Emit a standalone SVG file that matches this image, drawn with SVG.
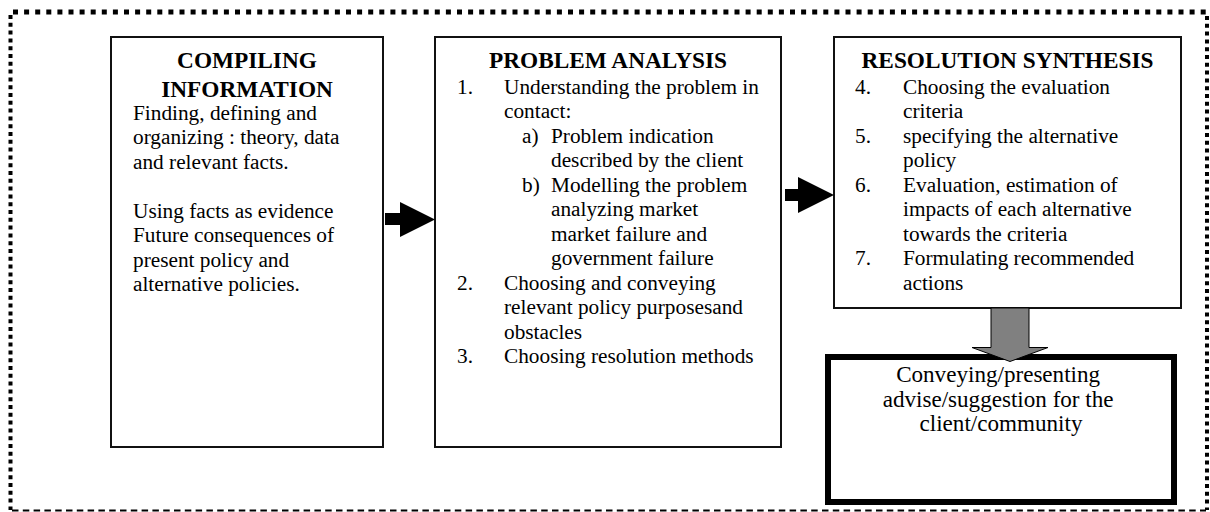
<svg xmlns="http://www.w3.org/2000/svg" width="1210" height="512" viewBox="0 0 1210 512">
<style>
.box{fill:#fff;stroke:#111;stroke-width:2}
.thick{fill:#fff;stroke:#000;stroke-width:6}
.t{font-family:"Liberation Serif","Times New Roman",serif;fill:#000}
.title{font-size:23.3px;font-weight:bold;text-anchor:middle}
.body{font-size:21.3px}
.big{font-size:23.1px;text-anchor:middle}
</style>
<rect width="1210" height="512" fill="#fff"/>
<g id="frame" fill="none" stroke="#000">
<line x1="13" y1="12" x2="1209" y2="12" stroke-width="5" stroke-dasharray="5 6.1"/>
<line x1="10.5" y1="15" x2="10.5" y2="510" stroke-width="4" stroke-dasharray="4 3.8"/>
<line x1="1207" y1="16" x2="1207" y2="510" stroke-width="4" stroke-dasharray="4 3.8"/>
<line x1="12" y1="510.5" x2="1206" y2="510.5" stroke-width="2" stroke-dasharray="6.5 4.3"/>
</g>
<g id="compiling">
<rect class="box" x="111" y="37" width="272" height="410"/>
<text class="t title"><tspan x="247" y="68">COMPILING</tspan><tspan x="247" y="96.5">INFORMATION</tspan></text>
<text class="t body">
<tspan x="133" y="119.5">Finding, defining and</tspan>
<tspan x="133" y="144">organizing : theory, data</tspan>
<tspan x="133" y="168.5">and relevant facts.</tspan>
<tspan x="133" y="217.5">Using facts as evidence</tspan>
<tspan x="133" y="242">Future consequences of</tspan>
<tspan x="133" y="266.5">present policy and</tspan>
<tspan x="133" y="291">alternative policies.</tspan>
</text>
</g>
<g id="analysis">
<rect class="box" x="435" y="37" width="346" height="410"/>
<text class="t title" x="608" y="68">PROBLEM ANALYSIS</text>
<text class="t body">
<tspan x="457" y="93.5">1.</tspan><tspan x="504" y="93.5">Understanding the problem in</tspan>
<tspan x="504" y="118">contact:</tspan>
<tspan x="522" y="142.5">a)</tspan><tspan x="551" y="142.5">Problem indication</tspan>
<tspan x="551" y="167">described by the client</tspan>
<tspan x="522" y="191.5">b)</tspan><tspan x="551" y="191.5">Modelling the problem</tspan>
<tspan x="551" y="216">analyzing market</tspan>
<tspan x="551" y="240.5">market failure and</tspan>
<tspan x="551" y="265">government failure</tspan>
<tspan x="457" y="289.5">2.</tspan><tspan x="504" y="289.5">Choosing and conveying</tspan>
<tspan x="504" y="314">relevant policy purposesand</tspan>
<tspan x="504" y="338.5">obstacles</tspan>
<tspan x="457" y="363">3.</tspan><tspan x="504" y="363">Choosing resolution methods</tspan>
</text>
</g>
<g id="synthesis">
<rect class="box" x="834" y="37" width="347" height="271"/>
<text class="t title" x="1007.5" y="68">RESOLUTION SYNTHESIS</text>
<text class="t body">
<tspan x="855" y="93.5">4.</tspan><tspan x="903" y="93.5">Choosing the evaluation</tspan>
<tspan x="903" y="118">criteria</tspan>
<tspan x="855" y="142.5">5.</tspan><tspan x="903" y="142.5">specifying the alternative</tspan>
<tspan x="903" y="167">policy</tspan>
<tspan x="855" y="191.5">6.</tspan><tspan x="903" y="191.5">Evaluation, estimation of</tspan>
<tspan x="903" y="216">impacts of each alternative</tspan>
<tspan x="903" y="240.5">towards the criteria</tspan>
<tspan x="855" y="265">7.</tspan><tspan x="903" y="265">Formulating recommended</tspan>
<tspan x="903" y="289.5">actions</tspan>
</text>
</g>
<g id="advise">
<rect class="thick" x="828" y="357" width="346" height="145"/>
<text class="t big">
<tspan x="1001" y="382">Conveying/presenting</tspan>
<tspan x="1001" y="406.5">advise/suggestion for the</tspan>
<tspan x="1001" y="431">client/community</tspan>
</text>
</g>
<g id="connectors">
<polygon points="385,213 400,213 400,202 435,219.5 400,237 400,225 385,225" fill="#000"/>
<polygon points="785,189 798,189 798,177 834,195 798,213 798,201 785,201" fill="#000"/>
<polygon points="991,308 1029,308 1029,347.5 1048,347.5 1010,361.5 972,347.5 991,347.5" fill="#808080" stroke="#000" stroke-width="1"/>
</g>
</svg>
